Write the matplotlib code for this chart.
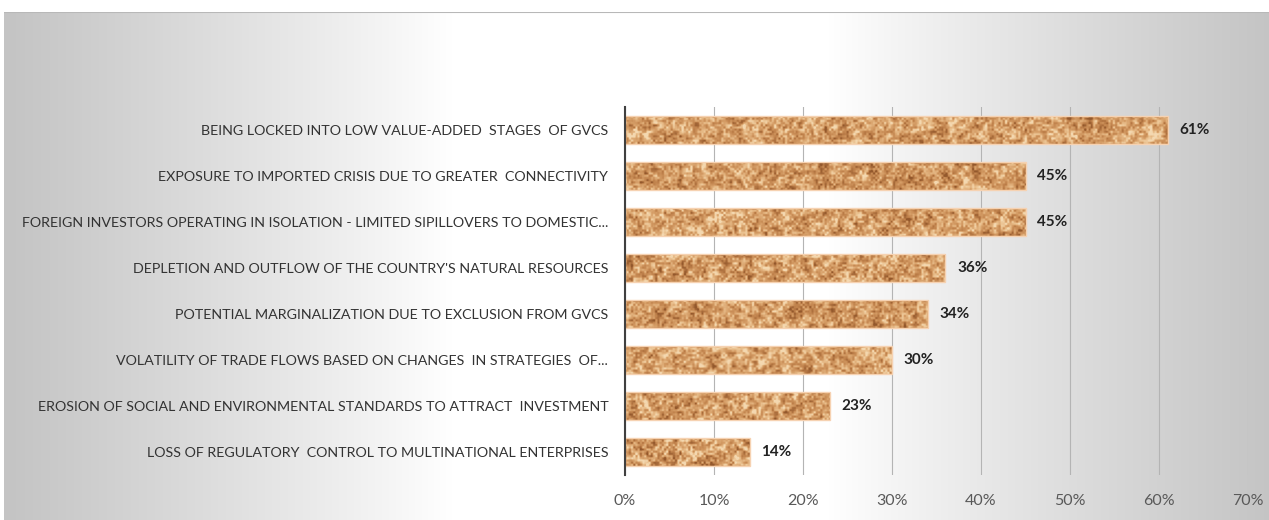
import numpy as np
import matplotlib
matplotlib.use("Agg")
import matplotlib.pyplot as plt
from matplotlib.colors import LinearSegmentedColormap

categories = [
    "BEING LOCKED INTO LOW VALUE-ADDED  STAGES  OF GVCS",
    "EXPOSURE TO IMPORTED CRISIS DUE TO GREATER  CONNECTIVITY",
    "FOREIGN INVESTORS OPERATING IN ISOLATION - LIMITED SIPILLOVERS TO DOMESTIC...",
    "DEPLETION AND OUTFLOW OF THE COUNTRY'S NATURAL RESOURCES",
    "POTENTIAL MARGINALIZATION DUE TO EXCLUSION FROM GVCS",
    "VOLATILITY OF TRADE FLOWS BASED ON CHANGES  IN STRATEGIES  OF...",
    "EROSION OF SOCIAL AND ENVIRONMENTAL STANDARDS TO ATTRACT  INVESTMENT",
    "LOSS OF REGULATORY  CONTROL TO MULTINATIONAL ENTERPRISES",
]
values = [61, 45, 45, 36, 34, 30, 23, 14]
xticks = [0, 10, 20, 30, 40, 50, 60, 70]
xtick_labels = ["0%", "10%", "20%", "30%", "40%", "50%", "60%", "70%"]

plt.rcParams['font.family'] = ['Lato', 'DejaVu Sans']

W, H = 1269, 520
fig = plt.figure(figsize=(W / 100, H / 100), dpi=100)
fig.patch.set_facecolor("white")

# background gradient panel (horizontal)
bg = fig.add_axes([4 / W, 0, 1 - 4 / W, 508 / H])
bg.set_axis_off()
gx = np.linspace(4, W, 600)
gy = np.linspace(12, H, 100)
GX, GY = np.meshgrid(gx, gy)
t = np.clip((np.abs(GX - 640) - 190) / 440, 0, 1) ** 0.9
val = 1 - 0.23 * t
bg.imshow(np.dstack([val, val, val]), aspect="auto", extent=[0, 1, 0, 1], interpolation="bilinear")
bg.set_xlim(0, 1)
bg.set_ylim(0, 1)
bg.axhline(1, color="#b8b8b8", lw=1.5)

ax = fig.add_axes([625 / W, 1 - 475 / H, (1248 - 625) / W, (475 - 107) / H])
ax.patch.set_alpha(0)

y = np.arange(len(categories))
bars = ax.barh(y, values, height=0.59, facecolor="none", edgecolor="#f6d2b2", lw=1.0, zorder=3)
ax.set_xlim(0, 70)
ax.set_ylim(len(categories) - 0.5, -0.5)


def hash2(i, j):
    v = np.sin(i * 12.9898 + j * 78.233) * 43758.5453
    return v - np.floor(v)


def value_noise(w, h, s, off):
    xs = np.arange(w) / s
    ys = np.arange(h) / s
    X, Y = np.meshgrid(xs, ys)
    x0 = np.floor(X); y0 = np.floor(Y)
    fx = X - x0; fy = Y - y0
    fx = fx * fx * (3 - 2 * fx); fy = fy * fy * (3 - 2 * fy)
    a = hash2(x0 + off, y0 + off * 0.37)
    b = hash2(x0 + 1 + off, y0 + off * 0.37)
    c = hash2(x0 + off, y0 + 1 + off * 0.37)
    dd = hash2(x0 + 1 + off, y0 + 1 + off * 0.37)
    return (a * (1 - fx) + b * fx) * (1 - fy) + (c * (1 - fx) + dd * fx) * fy


cork = LinearSegmentedColormap.from_list(
    "cork", [(0.0, "#93582c"), (0.3, "#c0824c"), (0.55, "#d59d66"), (0.8, "#e8bd8a"), (1.0, "#f4d8b0")])

px_per_unit = (1248 - 625) / 70
for k, p in enumerate(bars.patches):
    x0, y0, w, h = p.get_x(), p.get_y(), p.get_width(), p.get_height()
    wp = int(w * px_per_unit) + 1
    hp = 28
    n = 0.45 * value_noise(wp, hp, 2.2, 17 * k + 3) + 0.35 * value_noise(wp, hp, 5.0, 31 * k + 7) \
        + 0.2 * value_noise(wp, hp, 10.0, 13 * k + 11)
    n = (n - n.min()) / (n.max() - n.min())
    n = np.clip((n - 0.5) * 1.3 + 0.55, 0, 1)
    ax.imshow(n, cmap=cork, vmin=0, vmax=1, aspect="auto", extent=[x0, x0 + w, y0 + h, y0],
              interpolation="bilinear", zorder=2)
    ax.text(x0 + w + 1.3, y0 + h / 2, f"{values[k]}%", va="center", ha="left",
            fontsize=11, fontweight="bold", color="#222222", zorder=4)

ax.set_xticks(xticks)
ax.set_xticklabels(xtick_labels, color="#595959", fontsize=11.5)
ax.set_yticks(y)
ylabels = ax.set_yticklabels(categories, color="#333333", fontsize=11)
ax.tick_params(axis="both", length=0)
ax.tick_params(axis="x", pad=14)
ax.tick_params(axis="y", pad=12)
ax.grid(axis="x", color="#b4b4b4", lw=0.8, zorder=1)
ax.set_axisbelow(True)
for s in ["top", "right", "bottom"]:
    ax.spines[s].set_visible(False)
ax.spines["left"].set_color("#404040")
ax.spines["left"].set_linewidth(1.5)
ax.spines["left"].set_zorder(5)

# fit the label font size so the longest label spans about 591 px
fig.canvas.draw()
r = fig.canvas.get_renderer()
maxw = max(lb.get_window_extent(r).width for lb in ylabels)
fs = 11 * 591 / maxw
for lb in ylabels:
    lb.set_fontsize(fs)

fig.savefig("out.png", dpi=100, facecolor=fig.get_facecolor())
